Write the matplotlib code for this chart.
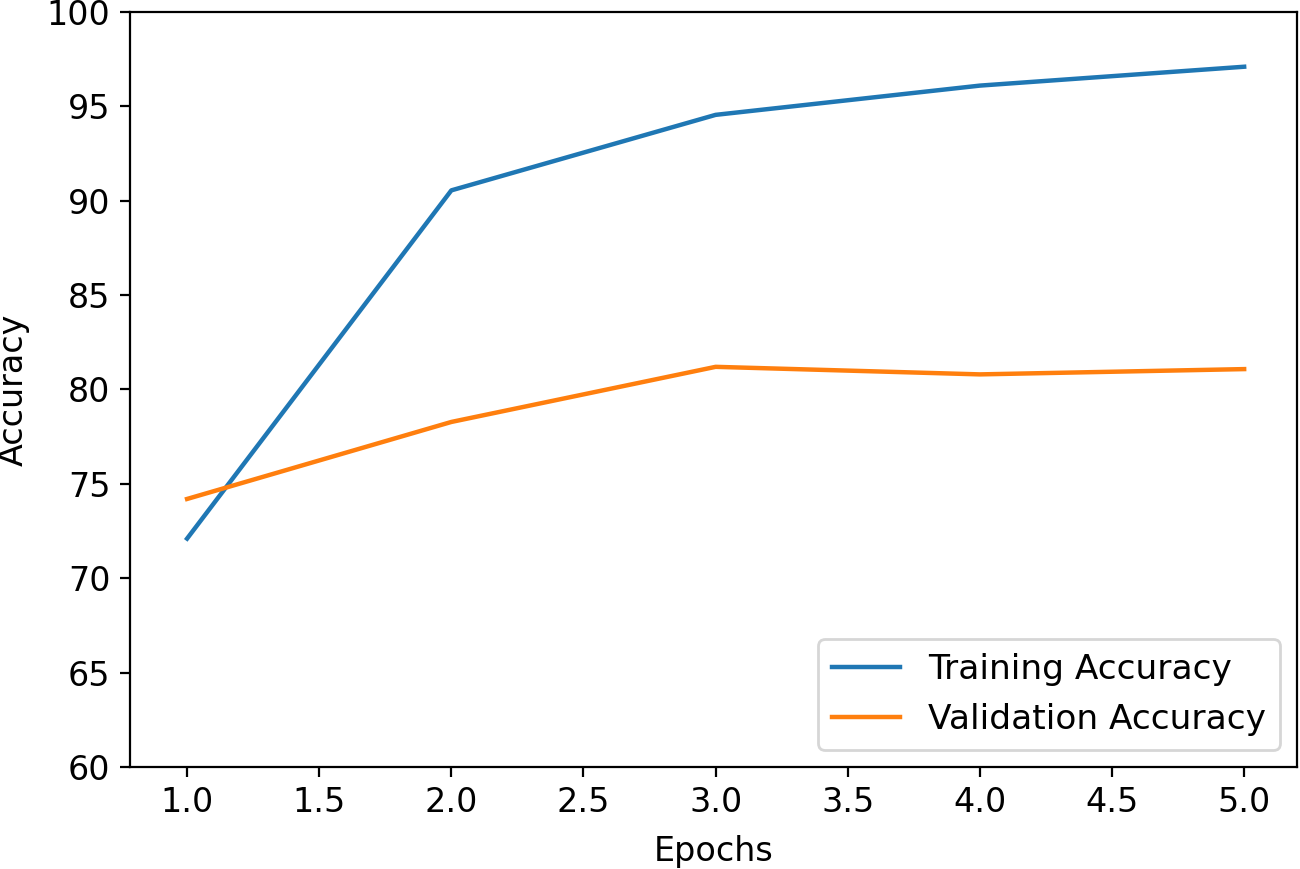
import matplotlib
matplotlib.use("Agg")
import matplotlib.pyplot as plt

epochs = [1, 2, 3, 4, 5]
train_acc = [72.1, 90.55, 94.55, 96.1, 97.1]
val_acc = [74.2, 78.28, 81.2, 80.8, 81.08]

plt.rcParams['font.size'] = 12
fig = plt.figure(figsize=(6.5, 4.345), dpi=200)
ax = fig.add_axes([0.1, 0.1174, 0.8977, 0.8688])
ax.plot(epochs, train_acc, label="Training Accuracy", linewidth=1.6)
ax.plot(epochs, val_acc, label="Validation Accuracy", linewidth=1.6)
ax.set_ylim(60, 100)
ax.set_xlim(0.784, 5.2)
ax.tick_params(labelsize=12)
ax.set_xlabel("Epochs", fontsize=12, labelpad=5.5)
ax.set_ylabel("Accuracy", fontsize=12, labelpad=6)
ax.legend(loc="lower right", fontsize=12.4)
fig.savefig("out.png", dpi=200)
